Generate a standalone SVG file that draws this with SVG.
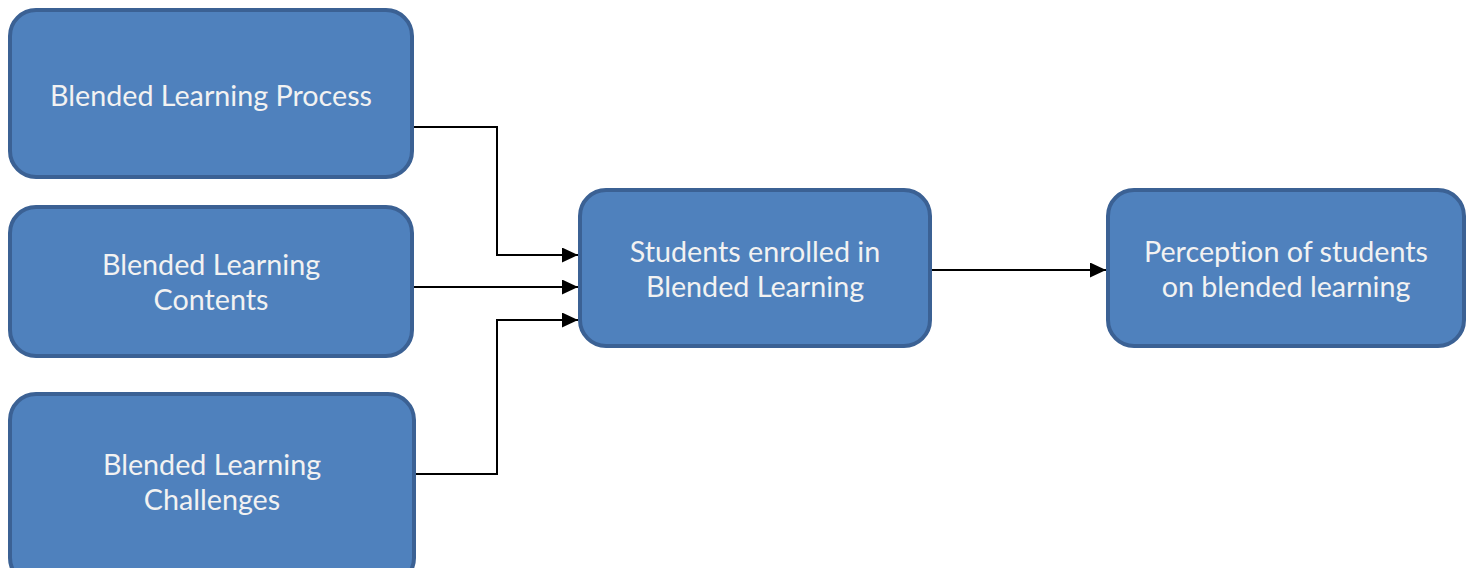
<svg xmlns="http://www.w3.org/2000/svg" width="1468" height="568" viewBox="0 0 1468 568">
  <style>
    .box { fill: #4f81bd; stroke: #3b6194; stroke-width: 4; }
    .label { font-family: "Lato", "Open Sans", sans-serif; font-size: 28.7px; fill: #f2f2f2; text-anchor: middle; font-variant-ligatures: none; }
    .wire { fill: none; stroke: #000; stroke-width: 2; }
  </style>
  <defs>
    <marker id="arrow" viewBox="0 0 16 15" refX="16" refY="7.5" markerWidth="16" markerHeight="15" markerUnits="userSpaceOnUse" orient="auto">
      <path d="M0,0 L16,7.5 L0,15 Z" fill="#000"/>
    </marker>
  </defs>
  <rect width="1468" height="568" fill="#fff"/>

  <g id="connectors">
    <path class="wire" d="M414,127 H497 V255 H578" marker-end="url(#arrow)"/>
    <path class="wire" d="M414,287 H578" marker-end="url(#arrow)"/>
    <path class="wire" d="M416,474 H497 V320 H578" marker-end="url(#arrow)"/>
    <path class="wire" d="M932,270 H1106" marker-end="url(#arrow)"/>
  </g>

  <g id="process">
    <rect class="box" x="10" y="10" width="402" height="167" rx="26"/>
    <text class="label" x="211" y="106">Blended Learning Process</text>
  </g>

  <g id="contents">
    <rect class="box" x="10" y="207" width="402" height="149" rx="26"/>
    <text class="label" x="211" y="275">Blended Learning</text>
    <text class="label" x="211" y="310">Contents</text>
  </g>

  <g id="challenges">
    <rect class="box" x="10" y="394" width="404" height="190" rx="26"/>
    <text class="label" x="212" y="475">Blended Learning</text>
    <text class="label" x="212" y="510">Challenges</text>
  </g>

  <g id="students">
    <rect class="box" x="580" y="190" width="350" height="156" rx="26"/>
    <text class="label" x="755" y="262">Students enrolled in</text>
    <text class="label" x="755" y="297">Blended Learning</text>
  </g>

  <g id="perception">
    <rect class="box" x="1108" y="190" width="356" height="156" rx="26"/>
    <text class="label" x="1286" y="262">Perception of students</text>
    <text class="label" x="1286" y="297">on blended learning</text>
  </g>
</svg>
